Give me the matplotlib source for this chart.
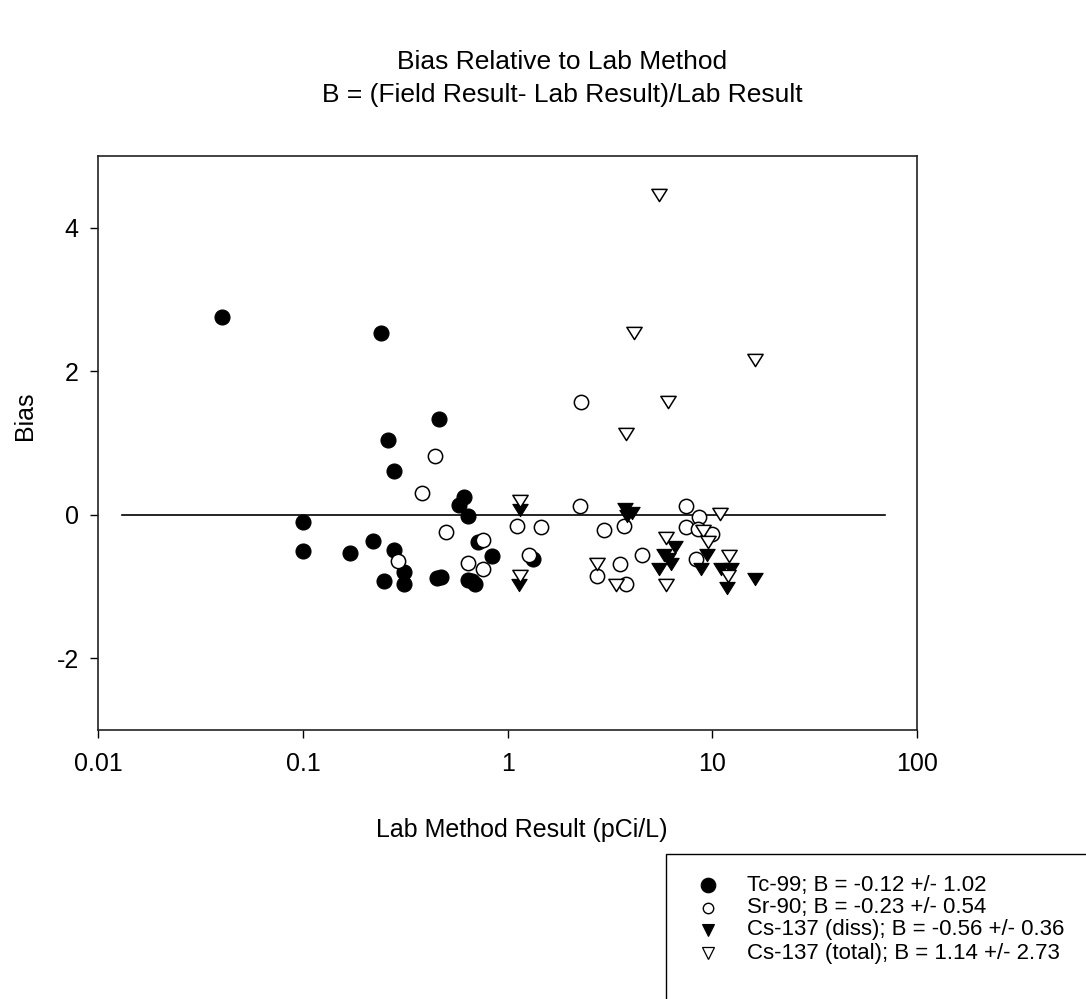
import matplotlib
matplotlib.use("Agg")
import matplotlib.pyplot as plt
from matplotlib.path import Path
from matplotlib.lines import Line2D
from matplotlib.patches import Rectangle

plt.rcParams['font.family'] = ['Liberation Sans', 'DejaVu Sans']

# ---- data ----
tc_x = [0.04, 0.24, 0.46, 0.26, 0.28, 0.61, 0.58, 0.64, 0.10, 0.10, 0.17, 0.22,
        0.28, 0.72, 0.84, 0.31, 0.25, 0.31, 0.45, 0.47, 0.64, 0.67, 0.69, 1.33]
tc_y = [2.75, 2.54, 1.33, 1.04, 0.61, 0.25, 0.13, -0.02, -0.10, -0.50, -0.53, -0.36,
        -0.49, -0.38, -0.57, -0.80, -0.92, -0.96, -0.88, -0.87, -0.91, -0.93, -0.97, -0.62]

sr_x = [0.44, 0.38, 0.50, 0.29, 0.76, 0.64, 0.76, 1.11, 1.46, 1.27, 2.25, 2.29,
        2.94, 3.70, 2.72, 3.54, 3.77, 4.54, 7.42, 7.40, 8.60, 8.50, 10.0, 8.30]
sr_y = [0.82, 0.30, -0.24, -0.65, -0.35, -0.67, -0.76, -0.16, -0.17, -0.56, 0.12, 1.57,
        -0.21, -0.15, -0.86, -0.68, -0.965, -0.565, 0.126, -0.17, -0.03, -0.20, -0.27, -0.62]

csd_x = [1.15, 1.13, 3.75, 4.05, 3.85, 6.60, 5.81, 6.08, 6.30, 5.49, 9.40, 8.80,
         11.0, 12.3, 11.8, 16.1]
csd_y = [0.066, -0.98, 0.08, 0.02, -0.02, -0.445, -0.56, -0.62, -0.68, -0.76, -0.56, -0.75,
         -0.75, -0.75, -1.02, -0.90]

cst_x = [1.15, 1.15, 2.74, 3.37, 5.92, 5.92, 9.00, 10.9, 9.48, 12.1, 11.9, 5.49,
         4.12, 16.2, 6.10, 3.77]
cst_y = [0.196, -0.86, -0.68, -0.98, -0.33, -0.98, -0.22, 0.01, -0.375, -0.575, -0.86, 4.45,
         2.54, 2.16, 1.57, 1.125]

zero_x = [0.013, 70]
zero_y = [0, 0]

x_ticks = [0.01, 0.1, 1, 10, 100]
x_tick_labels = ["0.01", "0.1", "1", "10", "100"]
y_ticks = [-2, 0, 2, 4]
y_tick_labels = ["-2", "0", "2", "4"]

labels = ["Tc-99; B = -0.12 +/- 1.02",
          "Sr-90; B = -0.23 +/- 0.54",
          "Cs-137 (diss); B = -0.56 +/- 0.36",
          "Cs-137 (total); B = 1.14 +/- 2.73"]

title_lines = ["Bias Relative to Lab Method",
               "B = (Field Result- Lab Result)/Lab Result"]

# ---- figure ----
W, H = 1086, 999
fig = plt.figure(figsize=(W / 100, H / 100), dpi=100)

def fx(px):
    return px / W

def fy(py):
    return 1 - py / H

ax = fig.add_axes([fx(98.3), fy(730), fx(917) - fx(98.3), fy(156) - fy(730)])

tri = Path([(-1, 0.8), (1, 0.8), (0, -0.8), (-1, 0.8)],
           [Path.MOVETO, Path.LINETO, Path.LINETO, Path.CLOSEPOLY])

ax.plot(zero_x, zero_y, color='black', lw=1.2, zorder=1)
ax.plot(tc_x, tc_y, ls='none', marker='o', ms=10.8, mfc='black', mec='black', mew=0.8, zorder=2)
ax.plot(sr_x, sr_y, ls='none', marker='o', ms=10.3, mfc='white', mec='black', mew=1.1, zorder=3)
ax.plot(csd_x, csd_y, ls='none', marker=tri, ms=11, mfc='black', mec='black', mew=0.8, zorder=4)
ax.plot(cst_x, cst_y, ls='none', marker=tri, ms=11, mfc='white', mec='black', mew=1.1, zorder=5)

ax.set_xscale('log')
ax.set_xlim(0.01, 100)
ax.set_ylim(-3, 5)
ax.set_xticks(x_ticks)
ax.set_xticklabels(x_tick_labels)
ax.set_yticks(y_ticks)
ax.set_yticklabels(y_tick_labels)
ax.minorticks_off()
ax.tick_params(axis='both', direction='out', length=6, width=1, labelsize=18,
               top=False, right=False, color='black')
ax.tick_params(axis='x', pad=10)
ax.tick_params(axis='y', pad=8)
for s in ax.spines.values():
    s.set_linewidth(1.2)
    s.set_color('#222222')

# axis labels
fig.text(fx(522), fy(830), "Lab Method Result (pCi/L)", ha='center', va='center', fontsize=18)
fig.text(fx(25), fy(416), "Bias", ha='center', va='center', rotation=90, fontsize=18)

# title
fig.text(fx(562), fy(62), title_lines[0], ha='center', va='center', fontsize=19)
fig.text(fx(562), fy(95), title_lines[1], ha='center', va='center', fontsize=19)

# legend (manual)
fig.add_artist(Rectangle((fx(666), fy(1010)), fx(1100) - fx(666), fy(854) - fy(1010),
                         transform=fig.transFigure, fill=False, ec='black', lw=1.0))
rows_y = [885, 907.5, 930, 953]
styles = [dict(marker='o', ms=10.5, mfc='black', mec='black', mew=0.8),
          dict(marker='o', ms=7.5, mfc='white', mec='black', mew=1.0),
          dict(marker='v', ms=9, mfc='black', mec='black', mew=0.8),
          dict(marker='v', ms=8.5, mfc='white', mec='black', mew=0.9)]
for ry, st, lab in zip(rows_y, styles, labels):
    fig.add_artist(Line2D([fx(708)], [fy(ry)], transform=fig.transFigure, ls='none', **st))
    fig.text(fx(747), fy(ry), lab, ha='left', va='center', fontsize=16)

fig.savefig("out.png", dpi=100)
